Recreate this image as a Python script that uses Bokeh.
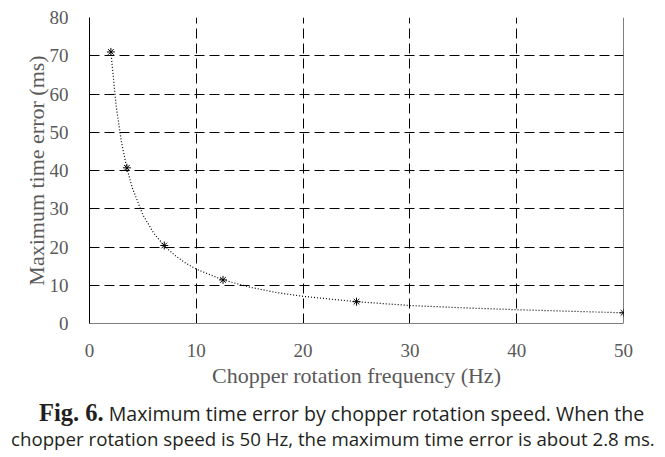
from bokeh.plotting import figure
from bokeh.models import Span, FixedTicker, Div
from bokeh.layouts import column
from bokeh.embed import file_html
from bokeh.resources import INLINE

# Measured points (Hz, ms)
freq = [2, 3.5, 7, 12.5, 25, 50]
max_err = [71.0, 40.7, 20.4, 11.4, 5.7, 2.8]

# Dotted trend curve
curve_x = [2, 2.5, 3, 3.5, 4, 5, 6, 7, 8, 9, 10, 12.5, 15, 17.5, 20, 25, 30, 35, 40, 45, 50]
curve_y = [71.0, 56.8, 47.3, 40.6, 35.5, 28.4, 23.7, 20.3, 17.8, 15.8, 14.2, 11.4, 9.5, 8.1, 7.1, 5.7, 4.7, 4.1, 3.6, 3.2, 2.8]

x_ticks = [0, 10, 20, 30, 40, 50]
y_ticks = [0, 10, 20, 30, 40, 50, 60, 70, 80]

p = figure(frame_width=534, frame_height=306,
           min_border_left=89, min_border_right=40, min_border_top=17, min_border_bottom=69,
           x_range=(0, 50), y_range=(0, 80),
           output_backend="svg", toolbar_location=None,
           x_axis_label="Chopper rotation frequency (Hz)",
           y_axis_label="Maximum time error (ms)")
p.outline_line_color = None
p.background_fill_color = "white"
p.border_fill_color = "white"

p.xaxis.ticker = FixedTicker(ticks=x_ticks)
p.yaxis.ticker = FixedTicker(ticks=y_ticks)

for ax in (p.xaxis[0], p.yaxis[0]):
    ax.major_tick_line_color = None
    ax.minor_tick_line_color = None
    ax.major_label_text_font = "Liberation Serif"
    ax.major_label_text_font_size = "19px"
    ax.major_label_text_color = "#595959"
    ax.axis_label_text_font = "Liberation Serif"
    ax.axis_label_text_font_size = "22px"
    ax.axis_label_text_font_style = "normal"
    ax.axis_label_text_color = "#595959"

p.yaxis.axis_line_color = "black"
p.xaxis.axis_line_color = "#7f7f7f"
p.yaxis.major_label_standoff = 15
p.xaxis.major_label_standoff = 14
p.yaxis.axis_label_standoff = -2
p.xaxis.axis_label_standoff = 3

p.xgrid.grid_line_color = "black"
p.xgrid.grid_line_dash = "10 5"
p.ygrid.grid_line_color = "black"
p.ygrid.grid_line_dash = "10 5"

p.add_layout(Span(location=50, dimension="height", line_color="black", line_width=1))

p.line(curve_x, curve_y, line_color="black", line_dash="1 2", line_width=1.2)
p.scatter(freq, max_err, marker="asterisk", size=8, line_color="black", line_width=1)

caption = Div(text=(
    '<div style="white-space:nowrap;color:#231f20;padding-top:2px;">'
    '<div style="padding-left:34px;height:27px;line-height:27px;">'
    '<span style="font-family:\'Liberation Serif\';font-weight:bold;font-size:24.5px;">Fig. 6.</span>'
    '<span style="font-family:\'Open Sans\';font-size:19.6px;"> Maximum time error by chopper rotation speed. When the</span>'
    '</div>'
    '<div style="padding-left:6px;height:26px;line-height:26px;font-family:\'Open Sans\';font-size:18.7px;">'
    'chopper rotation speed is 50 Hz, the maximum time error is about 2.8 ms.</div>'
    '</div>'), width=660, height=60)

layout = column(p, caption, spacing=0)
open("out.html", "w").write(file_html(layout, INLINE))
